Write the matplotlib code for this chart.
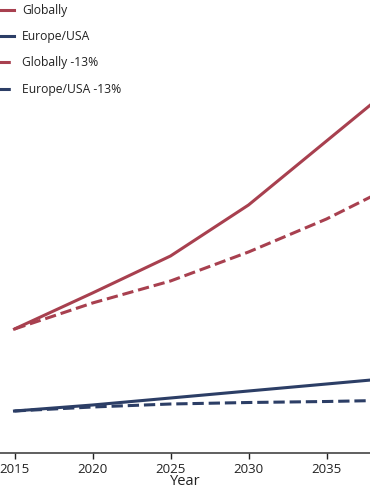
import numpy as np
import matplotlib.pyplot as plt

plt.rcParams['font.family'] = ['Open Sans', 'DejaVu Sans']

years = [2015, 2020, 2025, 2030, 2035, 2040]
globally = [126, 162, 199, 250, 314, 378]
europe_usa = [44, 50, 57, 64, 71, 78]
globally_13 = [126, 152, 174, 203, 236, 275]
europe_usa_13 = [44, 48, 51, 52.5, 53.5, 55]

rojo = '#a8404f'
azul = '#2c3e66'

fig = plt.figure(figsize=(3.7, 4.9), dpi=100)
ax = fig.add_axes([0, 37 / 490, 1, 453 / 490])

ax.plot(years, globally, color=rojo, lw=2.2, label='Globally', solid_capstyle='projecting')
ax.plot(years, europe_usa, color=azul, lw=2.2, label='Europe/USA', solid_capstyle='projecting')
ax.plot(years, globally_13, color=rojo, lw=2.2, ls='--', label='Globally -13%')
ax.plot(years, europe_usa_13, color=azul, lw=2.2, ls='--', label='Europe/USA -13%')

ax.set_xlim(2015 - 14.5 / 15.6, 2015 + 355.5 / 15.6)
ax.set_ylim(2, 455)
ax.set_xticks([2015, 2020, 2025, 2030, 2035])
ax.tick_params(axis='x', labelsize=9.5, length=4, width=1, colors='#222222', pad=3)
ax.set_yticks([])
for s in ['left', 'right', 'top']:
    ax.spines[s].set_visible(False)
ax.spines['bottom'].set_color('#444444')
ax.spines['bottom'].set_linewidth(1.2)
ax.set_xlabel('Year', fontsize=10.5, labelpad=-1.5, color='#222222')

leg = ax.legend(loc='upper left', bbox_to_anchor=(-26 / 370, 1.0 + 7 / 453),
                frameon=False, fontsize=8.7, handlelength=2.4, handletextpad=0.7,
                labelspacing=1.1)
for t in leg.get_texts():
    t.set_color('#222222')

fig.savefig('out.png', dpi=100)
